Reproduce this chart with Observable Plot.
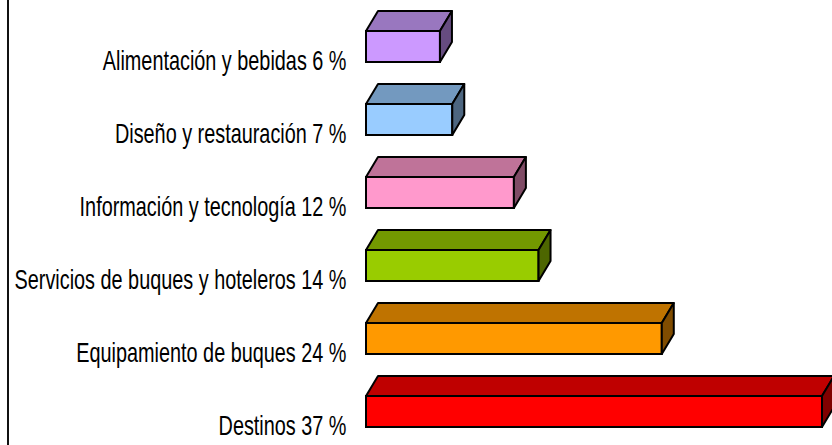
<!DOCTYPE html>
<html>
<head>
<meta charset="utf-8">
<script src="https://cdn.jsdelivr.net/npm/d3@7"></script>
<script src="https://cdn.jsdelivr.net/npm/@observablehq/plot@0.6"></script>
<style>
  html, body { margin: 0; padding: 0; background: #fff; }
  #wrap { position: relative; width: 832px; height: 445px; overflow: hidden; }
  #border { position: absolute; left: 7px; top: 0; width: 0; height: 445px; border-left: 2px solid #111; }
</style>
</head>
<body>
<div id="wrap"><div id="border"></div></div>
<script>
const categories = [
  "Alimentación y bebidas",
  "Diseño y restauración",
  "Información y tecnología",
  "Servicios de buques y hoteleros",
  "Equipamiento de buques",
  "Destinos"
];
const values = [6, 7, 12, 14, 24, 37];
const frontColors = ["#CC99FF", "#99CCFF", "#FF99CC", "#99CC00", "#FF9900", "#FF0000"];
const topColors   = ["#9977BF", "#7399BF", "#BF7399", "#739900", "#BF7300", "#BF0000"];
const sideColors  = ["#664C80", "#4D6680", "#804C66", "#4D6600", "#804C00", "#800000"];

const data = categories.map((c, i) => ({name: c, value: values[i], front: frontColors[i], top: topColors[i], side: sideColors[i]}));
const labelOf = new Map(categories.map((c, i) => [c, `${c} ${values[i]} %`]));
const labelSet = new Set(labelOf.values());

const DX = 12, DY = 20;

const plot = Plot.plot({
  width: 832,
  height: 445,
  marginLeft: 366,
  marginRight: 10,
  marginTop: 28,
  marginBottom: 16,
  style: {fontFamily: "'Liberation Sans', Arial, sans-serif", fontSize: "27px", color: "#000", overflow: "visible"},
  x: {domain: [0, 37], axis: null},
  y: {domain: categories, paddingInner: 0.58, paddingOuter: 0, axis: null},
  marks: [
    Plot.barX(data, {
      x: "value",
      y: "name",
      fill: d => d.front,
      stroke: "#000",
      strokeWidth: 2,
      render(index, scales, values, dimensions, context, next) {
        const g = next(index, scales, values, dimensions, context);
        const bw = scales.y.bandwidth ? scales.y.bandwidth() : 31;
        const sel = d3.select(g);
        for (const i of index) {
          const x1 = values.x1[i], x2 = values.x2[i], y = values.y[i];
          const y2 = y + bw;
          sel.append("polygon")
            .attr("points", [[x1, y], [x1 + DX, y - DY], [x2 + DX, y - DY], [x2, y]].map(p => p.join(",")).join(" "))
            .attr("fill", data[i].top).attr("stroke", "#000").attr("stroke-width", 2).attr("stroke-linejoin", "round");
          sel.append("polygon")
            .attr("points", [[x2, y], [x2 + DX, y - DY], [x2 + DX, y2 - DY], [x2, y2]].map(p => p.join(",")).join(" "))
            .attr("fill", data[i].side).attr("stroke", "#000").attr("stroke-width", 2).attr("stroke-linejoin", "round");
        }
        return g;
      }
    }),
    Plot.axisY({
      tickSize: 0,
      tickPadding: 20,
      dy: 14,
      tickFormat: d => labelOf.get(d),
      label: null,
      fontSize: 27
    })
  ]
});
// condense label text horizontally (narrow font look)
d3.select(plot).selectAll("text").each(function() {
  if (!labelSet.has(this.textContent)) return;
  const t = this.getAttribute("transform") || "";
  const xa = this.getAttribute("x");
  let extra = "";
  if (xa != null && !isNaN(+xa)) { extra = ` translate(${+xa},0)`; this.removeAttribute("x"); }
  this.setAttribute("transform", `${t}${extra} scale(0.735,1)`);
});
document.getElementById("wrap").appendChild(plot);
plot.style.position = "absolute";
plot.style.left = "0";
plot.style.top = "0";
</script>
</body>
</html>
